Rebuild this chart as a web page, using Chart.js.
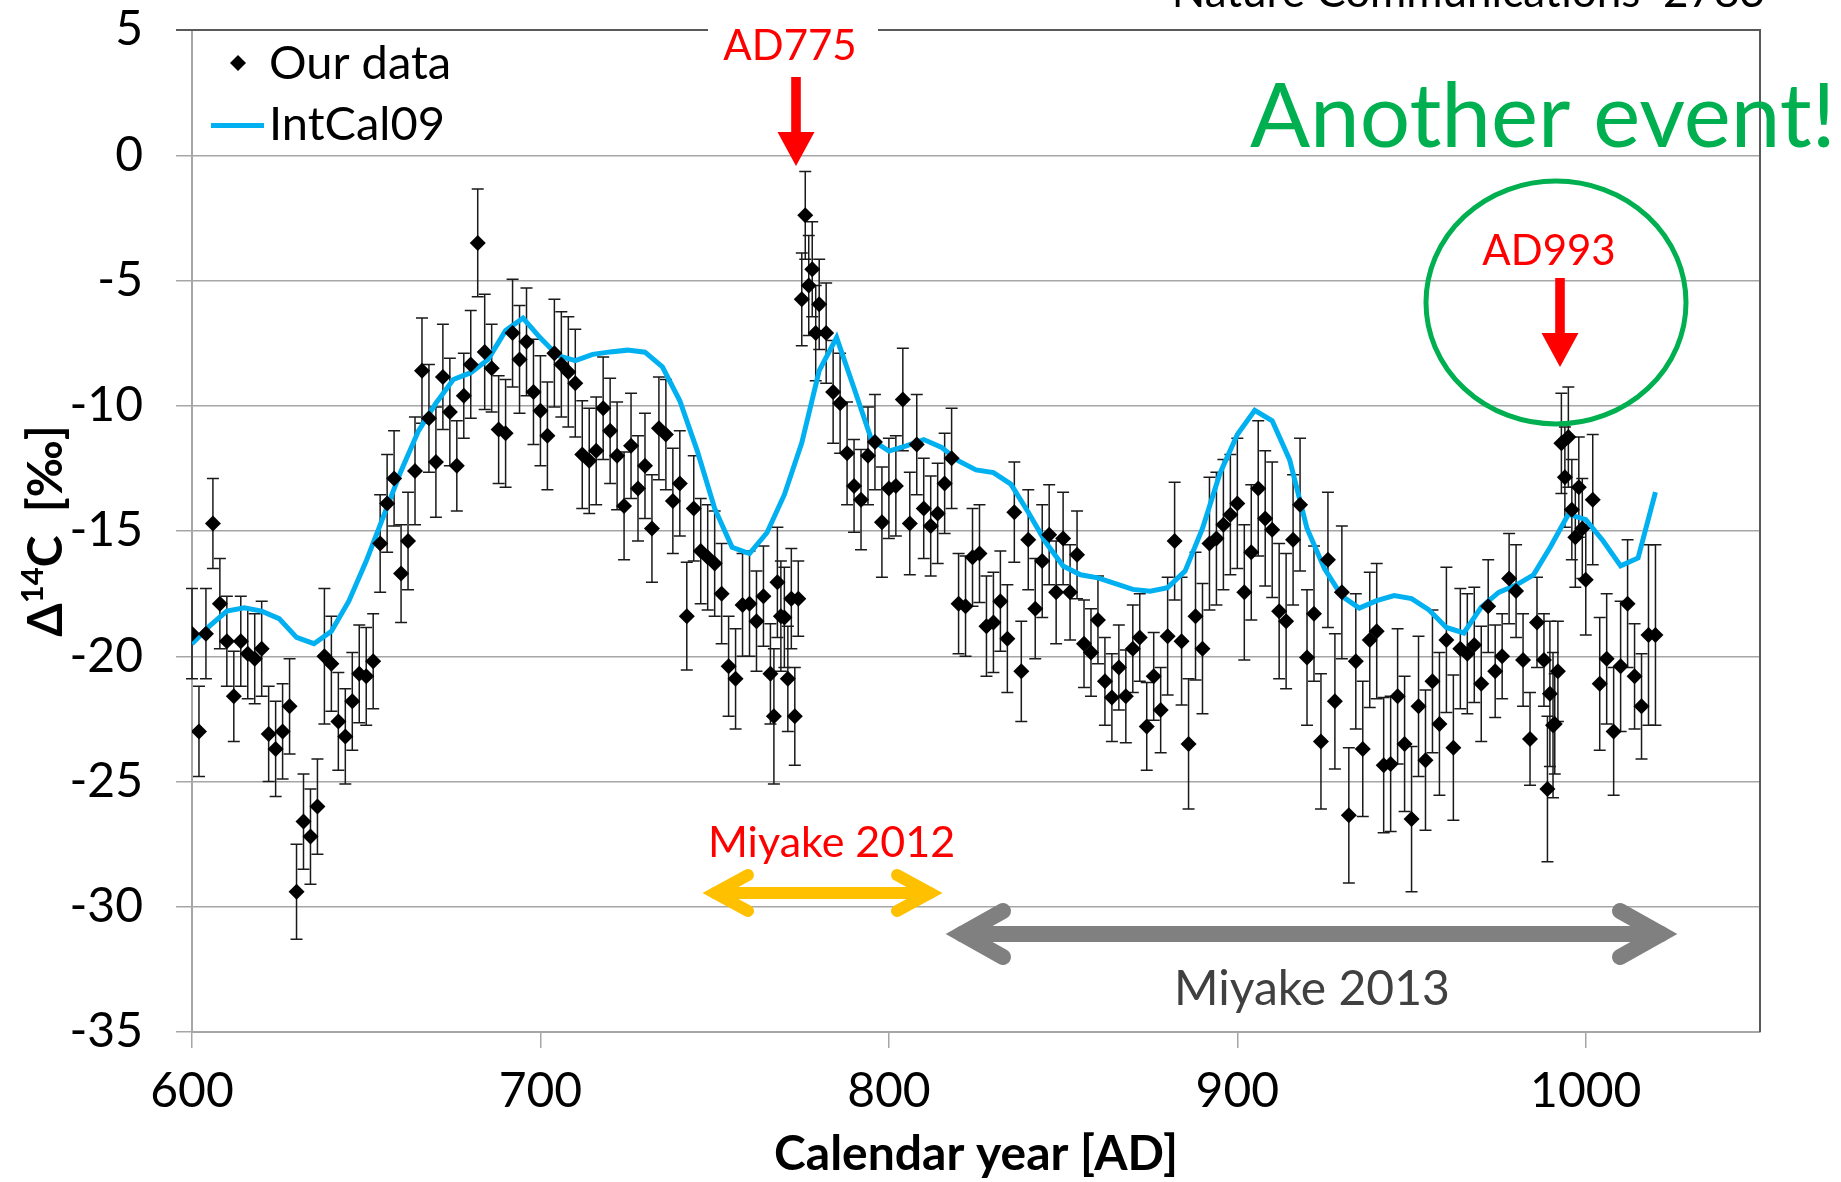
<!DOCTYPE html>
<html>
<head>
<meta charset="utf-8">
<script src="https://cdn.jsdelivr.net/npm/chart.js@4.4.1/dist/chart.umd.min.js"></script>
<style>
  html, body { margin: 0; padding: 0; background: #fff; }
  canvas { display: block; }
</style>
</head>
<body>
<canvas id="c14" width="1841" height="1182"></canvas>
<script>
// tree-ring D14C
const years = [
  600, 602, 604, 606, 608, 610, 612, 614, 616, 618,
  620, 622, 624, 626, 628, 630, 632, 634, 636, 638,
  640, 642, 644, 646, 648, 650, 652, 654, 656, 658,
  660, 662, 664, 666, 668, 670, 672, 674, 676, 678,
  680, 682, 684, 686, 688, 690, 692, 694, 696, 698,
  700, 702, 704, 706, 708, 710, 712, 714, 716, 718,
  720, 722, 724, 726, 728, 730, 732, 734, 736, 738,
  740, 742, 744, 746, 748, 750, 752, 754, 756, 758,
  760, 762, 764, 766, 767, 768, 769, 770, 771, 772,
  773, 774, 775, 776, 777, 778, 779, 780, 782, 784,
  786, 788, 790, 792, 794, 796, 798, 800, 802, 804,
  806, 808, 810, 812, 814, 816, 818, 820, 822, 824,
  826, 828, 830, 832, 834, 836, 838, 840, 842, 844,
  846, 848, 850, 852, 854, 856, 858, 860, 862, 864,
  866, 868, 870, 872, 874, 876, 878, 880, 882, 884,
  886, 888, 890, 892, 894, 896, 898, 900, 902, 904,
  906, 908, 910, 912, 914, 916, 918, 920, 922, 924,
  926, 928, 930, 932, 934, 936, 938, 940, 942, 944,
  946, 948, 950, 952, 954, 956, 958, 960, 962, 964,
  966, 968, 970, 972, 974, 976, 978, 980, 982, 984,
  986, 988, 989, 989.7, 990.6, 991.1, 992, 993, 994, 995,
  996, 997, 998, 999, 1000, 1002, 1004, 1006, 1008, 1010,
  1012, 1014, 1016, 1018, 1020
];
const delta14C = [
  -19.1, -23.0, -19.1, -14.7, -17.9, -19.4, -21.6, -19.4, -19.9, -20.1,
  -19.7, -23.1, -23.7, -23.0, -22.0, -29.4, -26.6, -27.2, -26.0, -20.0,
  -20.3, -22.6, -23.2, -21.8, -20.7, -20.8, -20.2, -15.5, -13.9, -12.9,
  -16.7, -15.4, -12.6, -8.6, -10.5, -12.25, -8.85, -10.25, -12.4, -9.6,
  -8.35, -3.5, -7.85, -8.5, -10.95, -11.1, -7.1, -8.15, -7.45, -9.45,
  -10.2, -11.2, -7.9, -8.35, -8.65, -9.1, -11.95, -12.2, -11.8, -10.1,
  -11.0, -12.0, -14.0, -11.6, -13.3, -12.4, -14.9, -10.9, -11.15, -13.8,
  -13.1, -18.4, -14.1, -15.8, -16.05, -16.3, -17.5, -20.4, -20.9, -17.95,
  -17.9, -18.6, -17.6, -20.7, -22.4, -17.05, -18.4, -18.45, -20.9, -17.7,
  -22.4, -17.7, -5.75, -2.4, -5.2, -4.55, -7.1, -5.95, -7.1, -9.45,
  -9.9, -11.9, -13.2, -13.75, -12.0, -11.45, -14.65, -13.3, -13.2, -9.75,
  -14.7, -11.55, -14.1, -14.8, -14.3, -13.1, -12.1, -17.9, -18.0, -16.05,
  -15.9, -18.8, -18.65, -17.8, -19.3, -14.25, -20.6, -15.35, -18.1, -16.2,
  -15.15, -17.45, -15.3, -17.45, -15.95, -19.5, -19.85, -18.55, -21.0, -21.65,
  -20.45, -21.6, -19.7, -19.25, -22.8, -20.8, -22.15, -19.2, -15.4, -19.4,
  -23.5, -18.4, -19.7, -15.5, -15.3, -14.75, -14.35, -13.9, -17.45, -15.85,
  -13.3, -14.5, -14.95, -18.2, -18.6, -15.35, -13.95, -20.05, -18.3, -23.4,
  -16.15, -21.8, -17.45, -26.35, -20.2, -23.7, -19.35, -19.0, -24.35, -24.3,
  -21.6, -23.5, -26.5, -22.0, -24.15, -21.0, -22.7, -19.35, -23.65, -19.7,
  -19.9, -19.55, -21.1, -18.0, -20.6, -20.0, -16.9, -17.4, -20.15, -23.3,
  -18.65, -20.15, -25.3, -21.5, -22.75, -22.7, -20.6, -11.5, -12.85, -11.25,
  -14.15, -15.25, -13.25, -14.9, -16.95, -13.75, -21.1, -20.1, -23.0, -20.4,
  -17.9, -20.8, -22.0, -19.15, -19.15
];
const errors = [
  1.8, 1.8, 1.8, 1.8, 1.8, 1.8, 1.8, 1.8, 1.8, 1.8,
  1.9, 1.9, 1.9, 1.9, 1.9, 1.9, 1.9, 1.9, 1.9, 2.7,
  1.9, 1.95, 1.9, 1.95, 1.95, 1.95, 1.9, 1.95, 1.95, 1.9,
  1.95, 1.95, 2.15, 2.1, 2.15, 2.2, 2.1, 2.15, 1.8, 1.7,
  2.15, 2.15, 2.3, 1.75, 2.15, 2.15, 2.15, 2.15, 2.15, 2.1,
  2.2, 2.15, 2.15, 2.1, 2.2, 2.15, 2.15, 2.1, 2.15, 2.05,
  2.1, 2.15, 2.15, 2.1, 2.1, 2.1, 2.15, 2.05, 2.2, 2.1,
  2.1, 2.15, 2.1, 2.1, 2.1, 2.1, 2.0, 2.0, 2.0, 2.05,
  2.1, 2.0, 2.0, 2.0, 2.7, 2.2, 2.2, 2.0, 2.1, 2.0,
  1.95, 1.5, 1.85, 1.75, 2.0, 1.9, 1.9, 1.8, 2.0, 2.05,
  2.0, 2.05, 1.85, 2.0, 1.95, 1.9, 2.2, 2.0, 2.0, 2.05,
  2.05, 2.0, 2.0, 2.0, 2.0, 2.0, 2.0, 2.0, 2.0, 1.95,
  1.95, 2.0, 2.0, 2.0, 2.15, 2.0, 2.0, 2.0, 2.0, 2.25,
  2.0, 2.05, 1.85, 1.9, 1.75, 1.75, 1.75, 1.75, 1.75, 1.75,
  1.7, 1.85, 1.75, 1.75, 1.75, 1.75, 1.7, 2.35, 2.35, 2.55,
  2.6, 2.55, 2.6, 2.65, 2.65, 2.6, 2.4, 2.6, 2.7, 2.7,
  2.7, 2.7, 2.7, 2.7, 2.7, 2.6, 2.65, 2.7, 2.7, 2.7,
  2.7, 2.7, 2.65, 2.7, 2.7, 2.7, 2.7, 2.7, 2.7, 2.7,
  2.7, 2.7, 2.9, 2.8, 2.8, 2.85, 2.85, 2.9, 2.9, 2.4,
  2.4, 2.3, 2.3, 1.85, 1.85, 1.7, 1.8, 1.85, 1.85, 1.85,
  1.8, 1.85, 2.9, 2.9, 2.9, 2.0, 2.0, 2.0, 2.0, 2.0,
  2.0, 2.0, 2.0, 2.0, 2.2, 2.6, 2.65, 2.6, 2.55, 2.6,
  2.55, 2.1, 2.1, 3.6, 3.6
];

// IntCal09 curve (5-yr)
const intcalYears = [
  600, 605, 610, 615, 620, 625, 630, 635, 640, 645,
  650, 655, 660, 665, 670, 675, 680, 685, 690, 695,
  700, 705, 710, 715, 720, 725, 730, 735, 740, 745,
  750, 755, 760, 765, 770, 775, 780, 785, 790, 795,
  800, 805, 810, 815, 820, 825, 830, 835, 840, 845,
  850, 855, 860, 865, 870, 875, 880, 885, 890, 895,
  900, 905, 910, 915, 920, 925, 930, 935, 940, 945,
  950, 955, 960, 965, 970, 975, 980, 985, 990, 995,
  1000, 1005, 1010, 1015, 1020
];
const intcalValues = [
  -19.5, -18.8, -18.2, -18.07, -18.2, -18.5, -19.25, -19.5, -19.0, -17.8,
  -16.2, -14.4, -12.6, -11.0, -9.9, -8.95, -8.68, -8.15, -7.0, -6.5,
  -7.3, -8.0, -8.2, -7.95, -7.85, -7.78, -7.86, -8.45, -9.8, -11.8,
  -14.1, -15.65, -15.9, -15.07, -13.55, -11.48, -8.6, -7.28, -9.3, -11.35,
  -11.81, -11.6, -11.35, -11.65, -12.2, -12.56, -12.67, -13.13, -14.25, -15.45,
  -16.4, -16.75, -16.87, -17.1, -17.33, -17.4, -17.26, -16.6, -14.9, -12.7,
  -11.15, -10.18, -10.6, -12.15, -14.9, -16.5, -17.6, -18.08, -17.78, -17.58,
  -17.7, -18.15, -18.85, -19.07, -18.04, -17.45, -17.16, -16.75, -15.6, -14.33,
  -14.55, -15.4, -16.39, -16.08, -13.45
];

const xTicks = [600, 700, 800, 900, 1000];
const yTicks = [5, 0, -5, -10, -15, -20, -25, -30, -35];

const FONT = 'Lato, "Open Sans", sans-serif';
Chart.defaults.font.family = FONT;
Chart.defaults.color = '#000';

const errorBars = {
  id: 'errorBars',
  beforeDatasetsDraw(chart) {
    const {ctx, scales: {x, y}} = chart;
    ctx.save();
    ctx.strokeStyle = '#1a1a1a';
    ctx.lineWidth = 1.5;
    years.forEach((yr, i) => {
      const px = x.getPixelForValue(yr);
      const hi = y.getPixelForValue(delta14C[i] + errors[i]);
      const lo = y.getPixelForValue(delta14C[i] - errors[i]);
      ctx.beginPath();
      ctx.moveTo(px, hi); ctx.lineTo(px, lo);
      ctx.moveTo(px - 6, hi); ctx.lineTo(px + 6, hi);
      ctx.moveTo(px - 6, lo); ctx.lineTo(px + 6, lo);
      ctx.stroke();
    });
    ctx.restore();
  }
};

function downArrow(ctx, x, y0, y1, color) {
  const headLen = 34, headHalf = 18.5, shaftHalf = 4.8;
  ctx.fillStyle = color;
  ctx.beginPath();
  ctx.moveTo(x - shaftHalf, y0);
  ctx.lineTo(x + shaftHalf, y0);
  ctx.lineTo(x + shaftHalf, y1 - headLen);
  ctx.lineTo(x + headHalf, y1 - headLen);
  ctx.lineTo(x, y1);
  ctx.lineTo(x - headHalf, y1 - headLen);
  ctx.lineTo(x - shaftHalf, y1 - headLen);
  ctx.closePath();
  ctx.fill();
}

function doubleArrow(ctx, x0, x1, y, armDx, armDy, width, color) {
  ctx.strokeStyle = color;
  ctx.lineWidth = width;
  ctx.lineCap = 'round';
  ctx.lineJoin = 'miter';
  ctx.beginPath();
  ctx.moveTo(x0, y); ctx.lineTo(x1, y);
  ctx.stroke();
  ctx.beginPath();
  ctx.moveTo(x0 + armDx, y - armDy); ctx.lineTo(x0, y); ctx.lineTo(x0 + armDx, y + armDy);
  ctx.moveTo(x1 - armDx, y - armDy); ctx.lineTo(x1, y); ctx.lineTo(x1 - armDx, y + armDy);
  ctx.stroke();
}

const decorations = {
  id: 'decorations',
  afterDraw(chart) {
    const ctx = chart.ctx;
    const {left, right, top, bottom} = chart.chartArea;
    ctx.save();

    // plot frame (top + right)
    ctx.strokeStyle = '#595959';
    ctx.lineWidth = 2;
    ctx.beginPath();
    ctx.moveTo(left - 16, top);
    ctx.lineTo(right, top);
    ctx.lineTo(right, bottom);
    ctx.stroke();

    // y axis title with superscript
    ctx.save();
    ctx.translate(62, 531);
    ctx.rotate(-Math.PI / 2);
    ctx.fillStyle = '#000';
    ctx.textBaseline = 'alphabetic';
    const big = 'bold 48px ' + FONT, small = 'bold 31px ' + FONT;
    ctx.font = big;
    const wD = ctx.measureText('\u0394').width;
    const wRest = ctx.measureText('C  [\u2030]').width;
    ctx.font = small;
    const w14 = ctx.measureText('14').width;
    let tx = -(wD + w14 + wRest) / 2;
    ctx.font = big;
    ctx.fillText('\u0394', tx, 0); tx += wD;
    ctx.font = small;
    ctx.fillText('14', tx, -19); tx += w14;
    ctx.font = big;
    ctx.fillText('C  [\u2030]', tx, 0);
    ctx.restore();

    // x axis title
    ctx.fillStyle = '#000';
    ctx.font = 'bold 48px ' + FONT;
    ctx.textAlign = 'center';
    ctx.fillText('Calendar year [AD]', (left + right) / 2, 1170);

    // legend
    ctx.textAlign = 'left';
    ctx.font = '47px ' + FONT;
    ctx.fillStyle = '#000';
    ctx.beginPath();
    ctx.moveTo(238, 55); ctx.lineTo(246, 63); ctx.lineTo(238, 71); ctx.lineTo(230, 63);
    ctx.closePath(); ctx.fill();
    ctx.fillText('Our data', 269, 79);
    ctx.strokeStyle = '#00B0F0';
    ctx.lineWidth = 5;
    ctx.beginPath(); ctx.moveTo(211, 125.5); ctx.lineTo(264, 125.5); ctx.stroke();
    ctx.fillText('IntCal09', 269, 140);

    // journal note, clipped at the top edge
    ctx.textAlign = 'right';
    ctx.font = '44px ' + FONT;
    ctx.fillText('Nature Communications  2783', 1765, 7);

    // AD775 label over the frame
    ctx.fillStyle = '#fff';
    ctx.fillRect(708, 18, 170, 26);
    ctx.fillStyle = '#FF0000';
    ctx.textAlign = 'center';
    ctx.font = '42px ' + FONT;
    ctx.fillText('AD775', 790, 60);
    downArrow(ctx, 796, 77, 166, '#FF0000');

    // AD993 event
    ctx.fillText('AD993', 1549, 265);
    downArrow(ctx, 1560, 278, 367, '#FF0000');
    ctx.strokeStyle = '#00B050';
    ctx.lineWidth = 5;
    ctx.beginPath();
    ctx.ellipse(1556, 302.5, 130, 121.5, 0, 0, Math.PI * 2);
    ctx.stroke();
    ctx.fillStyle = '#00B050';
    ctx.textAlign = 'left';
    ctx.font = '89px ' + FONT;
    ctx.fillText('Another event!', 1250, 147);

    // Miyake 2012 / 2013 spans
    ctx.fillStyle = '#FF0000';
    ctx.font = '43px ' + FONT;
    ctx.fillText('Miyake 2012', 708, 857);
    doubleArrow(ctx, 715, 930, 893, 33, 18, 12, '#FFC000');
    doubleArrow(ctx, 962, 1661, 934, 41, 23, 16, '#808080');
    ctx.fillStyle = '#404040';
    ctx.font = '48px ' + FONT;
    ctx.fillText('Miyake 2013', 1174, 1005);

    ctx.restore();
  }
};

const points = years.map((yr, i) => ({x: yr, y: delta14C[i]}));
const curve = intcalYears.map((yr, i) => ({x: yr, y: intcalValues[i]}));

new Chart(document.getElementById('c14'), {
  type: 'scatter',
  data: {
    datasets: [
      {
        label: 'Our data',
        data: points,
        pointStyle: 'rectRot',
        pointRadius: 8,
        backgroundColor: '#000',
        borderWidth: 0
      },
      {
        label: 'IntCal09',
        data: curve,
        showLine: true,
        borderColor: '#00B0F0',
        borderWidth: 5,
        pointRadius: 0,
        tension: 0,
        fill: false
      }
    ]
  },
  options: {
    responsive: false,
    animation: false,
    layout: {padding: {left: 0, top: 30, right: 81, bottom: 0}},
    plugins: {
      legend: {display: false},
      tooltip: {enabled: false}
    },
    scales: {
      x: {
        type: 'linear',
        min: 600,
        max: 1050,
        afterBuildTicks: (scale) => { scale.ticks = xTicks.map(v => ({value: v})); },
        afterFit: (scale) => {
          scale.height = 150;
          scale.paddingLeft = 0; scale.paddingRight = 0;
        },
        grid: {drawOnChartArea: false, tickLength: 16, color: '#a6a6a6', lineWidth: 1.5},
        border: {color: '#a6a6a6', width: 2},
        ticks: {font: {size: 48}, padding: 15, maxRotation: 0, callback: (v) => String(v)}
      },
      y: {
        min: -35,
        max: 5,
        afterBuildTicks: (scale) => { scale.ticks = yTicks.map(v => ({value: v})); },
        afterFit: (scale) => {
          scale.width = 192;
          scale.paddingTop = 0; scale.paddingBottom = 0;
        },
        grid: {tickLength: 16, color: '#a6a6a6', lineWidth: 1.5},
        border: {color: '#a6a6a6', width: 2},
        ticks: {font: {size: 48}, padding: 33, callback: (v) => String(v)}
      }
    }
  },
  plugins: [errorBars, decorations]
});
</script>
</body>
</html>
